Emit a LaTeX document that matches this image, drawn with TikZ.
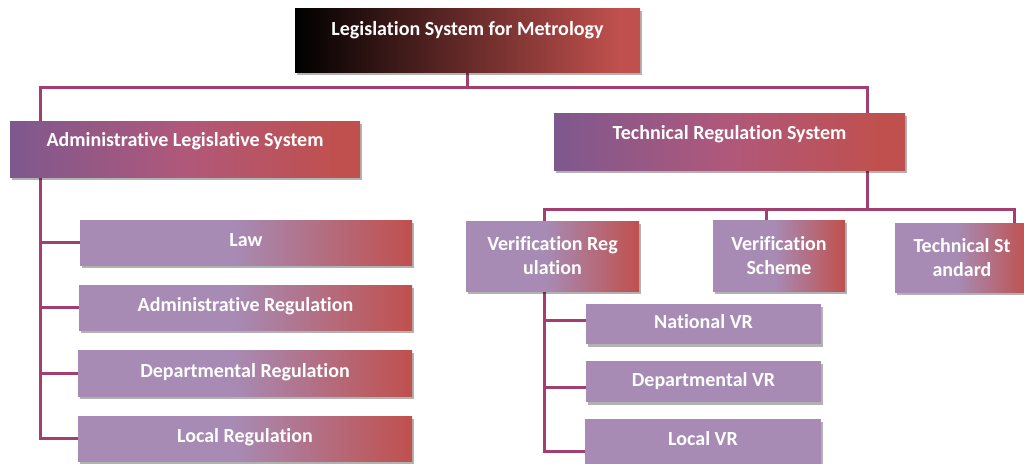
\documentclass[tikz,border=0pt]{standalone}
\usepackage{fontspec}
\setmainfont{Carlito}[RawFeature=-liga]
\usetikzlibrary{shadows,backgrounds}
\definecolor{tred}{RGB}{192,80,77}
\definecolor{tpur}{RGB}{126,88,142}
\definecolor{tpink}{RGB}{176,88,122}
\definecolor{tlav}{RGB}{167,139,181}
\definecolor{conncol}{RGB}{163,62,112}
\pgfdeclarehorizontalshading{topsh}{100bp}{color(0bp)=(black); color(25bp)=(black); color(72bp)=(tred); color(100bp)=(tred)}
\pgfdeclarehorizontalshading{midsh}{100bp}{color(0bp)=(tpur); color(25bp)=(tpur); color(50bp)=(tpink); color(72bp)=(tred); color(100bp)=(tred)}
\pgfdeclarehorizontalshading{subsh}{100bp}{color(0bp)=(tlav); color(25bp)=(tlav); color(48bp)=(tlav); color(75bp)=(tred); color(100bp)=(tred)}
\begin{document}
\begin{tikzpicture}[x=1pt,y=-1pt,
  basebox/.style={rectangle, inner sep=0pt, text=white, align=center,
    font=\fontsize{20}{24}\selectfont\bfseries,
    drop shadow={shadow xshift=1.5pt, shadow yshift=-3pt, opacity=0.3, fill=black}},
  topbox/.style={basebox, shading=topsh},
  midbox/.style={basebox, shading=midsh},
  subbox/.style={basebox, shading=subsh},
  flatbox/.style={basebox, fill=tlav},
  sh/.style={text height=13pt, text depth=#1},
  conn/.style={draw=conncol, line width=3pt, line cap=rect}]
\useasboundingbox (0,0) rectangle (1024,463);

\node[topbox, minimum width=345pt, minimum height=64pt, sh=22pt] (top) at (467.5,40) {Legislation System for Metrology};
\node[midbox, minimum width=350pt, minimum height=56pt, sh=18pt] (adm) at (185,149) {Administrative Legislative System};
\node[midbox, minimum width=351pt, minimum height=57pt, sh=17pt] (tech) at (729.5,141.5) {Technical Regulation System};

\node[subbox, minimum width=332pt, minimum height=45pt, sh=5pt] (law) at (246,242.5) {Law};
\node[subbox, minimum width=333pt, minimum height=45pt, sh=5pt] (areg) at (245.5,307.5) {Administrative Regulation};
\node[subbox, minimum width=334pt, minimum height=46pt, sh=5pt] (dreg) at (245,373) {Departmental Regulation};
\node[subbox, minimum width=334pt, minimum height=45pt, sh=5pt] (lreg) at (245,438.5) {Local Regulation};

\node[subbox, minimum width=173pt, minimum height=70pt] (vr) at (552.5,256) {Verification Reg\\ulation};
\node[subbox, minimum width=132pt, minimum height=71pt] (vs) at (779,255.5) {Verification\\Scheme};
\node[subbox, minimum width=134pt, minimum height=69pt] (ts) at (962,257.5) {Technical St\\andard};

\node[flatbox, minimum width=235pt, minimum height=40pt, sh=4pt] (nvr) at (703.5,324) {National VR};
\node[flatbox, minimum width=235pt, minimum height=41pt, sh=4pt] (dvr) at (703.5,381.5) {Departmental VR};
\node[flatbox, minimum width=236pt, minimum height=45pt, sh=4pt] (lvr) at (703,441) {Local VR};

\coordinate (bL) at (40,87);
\coordinate (bR) at (867,87);
\coordinate (cL) at (544,209);
\coordinate (cM) at (766,209);
\coordinate (cR) at (1014,209);
\coordinate (nb) at ([yshift=4pt]nvr.west);
\coordinate (db) at ([yshift=-5.5pt]dvr.west);
\coordinate (lb) at ([yshift=-10pt]lvr.west);

\begin{pgfonlayer}{background}
\draw[conn] (top.south) -- (top.south |- bL);
\draw[conn] (bL) -- (bR);
\draw[conn] (bL) -- (bL |- adm.north);
\draw[conn] (bR) -- (bR |- tech.north);
\draw[conn] (adm.south -| bL) |- (lreg.west);
\foreach \n in {law,areg,dreg} \draw[conn] (\n.west -| bL) -- (\n.west);
\draw[conn] (tech.south -| bR) -- (bR |- cL);
\draw[conn] (cL) -- (cR);
\draw[conn] (cL) -- (cL |- vr.north);
\draw[conn] (cM) -- (cM |- vs.north);
\draw[conn] (cR) -- (cR |- ts.north);
\draw[conn] (vr.south -| cL) |- (lb);
\draw[conn] (nb -| cL) -- (nb);
\draw[conn] (db -| cL) -- (db);
\end{pgfonlayer}
\end{tikzpicture}
\end{document}
